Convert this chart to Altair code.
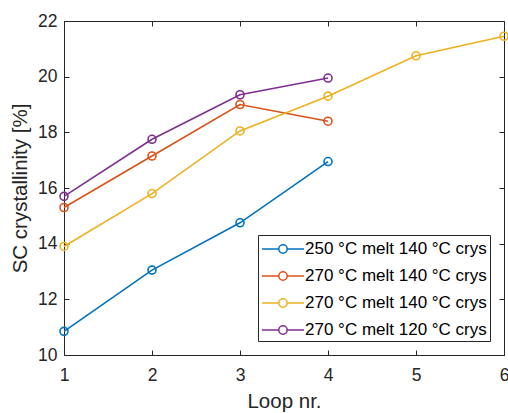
import altair as alt
import pandas as pd

# ---- data ----
loops_a = [1, 2, 3, 4]
vals_a = [10.85, 13.05, 14.75, 16.95]
loops_b = [1, 2, 3, 4]
vals_b = [15.3, 17.15, 19.0, 18.4]
loops_c = [1, 2, 3, 4, 5, 6]
vals_c = [13.9, 15.8, 18.05, 19.3, 20.75, 21.45]
loops_d = [1, 2, 3, 4]
vals_d = [15.7, 17.75, 19.35, 19.95]

series_keys = ["s1", "s2", "s3", "s4"]
series_labels = [
    "250 °C melt 140 °C crys",
    "270 °C melt 140 °C crys",
    "270 °C melt 140 °C crys",
    "270 °C melt 120 °C crys",
]
series_colors = ["#0072BD", "#D95319", "#EDB120", "#7E2F8E"]
x_ticks = [1, 2, 3, 4, 5, 6]
y_ticks = [10, 12, 14, 16, 18, 20, 22]

rows = []
for key, xs, ys in zip(series_keys, [loops_a, loops_b, loops_c, loops_d],
                       [vals_a, vals_b, vals_c, vals_d]):
    for x, y in zip(xs, ys):
        rows.append({"loop": x, "value": y, "series": key})
df = pd.DataFrame(rows)

label_expr = ""
for k, lab in zip(series_keys, series_labels):
    label_expr += f"datum.value == '{k}' ? '{lab}' : "
label_expr += "''"

W, H = 440, 334
AX = "#262626"
FONT = "Liberation Sans"

legend_path = ("M-2.1,0H-0.42M0.42,0H2.1M0.42,0A0.42,0.42 0 1 1 -0.42,0"
               "A0.42,0.42 0 1 1 0.42,0")

color = alt.Color(
    "series:N",
    scale=alt.Scale(domain=series_keys, range=series_colors),
    legend=alt.Legend(
        title=None,
        orient="none",
        legendX=194,
        legendY=214,
        labelExpr=label_expr,
        labelFont=FONT,
        labelFontSize=17,
        labelColor="#000000",
        labelLimit=400,
        symbolType=legend_path,
        symbolSize=400,
        symbolStrokeWidth=1.5,
        symbolFillColor="transparent",
        symbolOffset=11,
        labelOffset=11,
        rowPadding=8,
        padding=3,
        strokeColor=AX,
        fillColor="white",
    ),
)

xscale = alt.Scale(domain=[1, 6], nice=False)
yscale = alt.Scale(domain=[10, 22], nice=False)

tick_axis = dict(labels=False, domain=False, ticks=True, tickSize=5,
                 tickColor=AX, tickWidth=1, grid=False)

lines = alt.Chart(df).mark_line(strokeWidth=1.6).encode(
    x=alt.X("loop:Q", scale=xscale, title="Loop nr.",
            axis=alt.Axis(values=x_ticks, ticks=False, domain=False, grid=False,
                          labelFlush=False, labelPadding=11, titlePadding=8,
                          format="d")),
    y=alt.Y("value:Q", scale=yscale, title="SC crystallinity [%]",
            axis=alt.Axis(values=y_ticks, ticks=False, domain=False, grid=False,
                          labelFlush=False, labelPadding=7, titlePadding=7,
                          format="d")),
    color=color,
    detail="series:N",
)

points = alt.Chart(df).mark_point(filled=False, size=64, strokeWidth=1.6,
                                  opacity=1).encode(
    x=alt.X("loop:Q", scale=xscale, title=None,
            axis=alt.Axis(orient="top", offset=-H, values=x_ticks, **tick_axis)),
    y=alt.Y("value:Q", scale=yscale, title=None,
            axis=alt.Axis(orient="right", offset=-W, values=y_ticks, **tick_axis)),
    color=color,
)

ghost = alt.Chart(df).mark_point(opacity=0).encode(
    x=alt.X("loop:Q", scale=xscale, title=None,
            axis=alt.Axis(orient="bottom", offset=-H, values=x_ticks, **tick_axis)),
    y=alt.Y("value:Q", scale=yscale, title=None,
            axis=alt.Axis(orient="left", offset=-W, values=y_ticks, **tick_axis)),
)

chart = alt.layer(lines, points, ghost).properties(
    width=W,
    height=H,
    padding={"left": 64, "top": 21, "right": 4, "bottom": 58},
    autosize="none",
    background="white",
).configure_view(
    stroke=AX, strokeWidth=1
).configure_axis(
    labelFont=FONT, labelFontSize=17.5, labelColor=AX,
    titleFont=FONT, titleFontSize=20.5, titleColor=AX, titleFontWeight="normal",
)

chart.save("out.html", embed_options={"renderer": "svg", "actions": False})
